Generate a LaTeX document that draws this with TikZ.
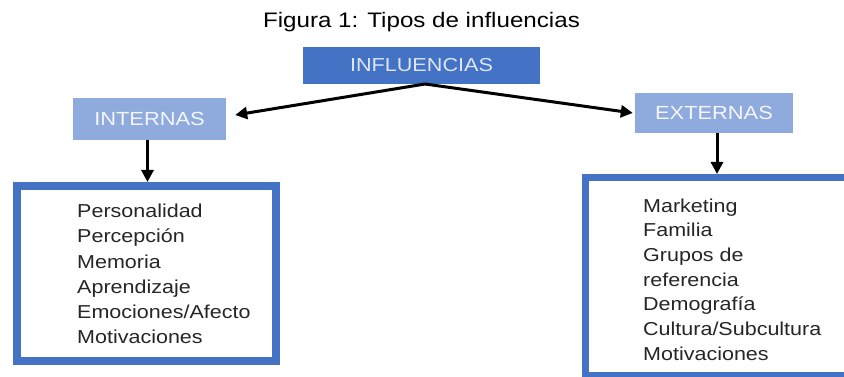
\documentclass[tikz,border=0pt]{standalone}
\usepackage{fontspec}
\setmainfont{Liberation Sans}[FakeStretch=1.15]
\usetikzlibrary{arrows.meta}
\definecolor{dblue}{HTML}{4472C4}
\definecolor{lblue}{HTML}{8FAADC}
\definecolor{hdrtxt}{HTML}{DCE6F4}
\definecolor{subtxt}{HTML}{F4F6FB}
\definecolor{txt}{HTML}{262626}
\begin{document}
\begin{tikzpicture}[x=1pt,y=-1pt,
  hdr/.style={fill=dblue, inner sep=0pt, text=hdrtxt, font=\fontsize{18.8}{20}\selectfont},
  sub/.style={fill=lblue, inner sep=0pt, text=subtxt, font=\fontsize{19}{20}\selectfont},
  listbox/.style={draw=dblue, line width=#1, inner sep=0pt},
  item/.style={anchor=base west, inner sep=0pt, text=txt, font=\fontsize{18.7}{20}\selectfont},
  arr/.style={line width=3pt, -{Triangle[length=12pt,width=12pt]}}]
\useasboundingbox[fill=white] (0,0) rectangle (844,377);
\node[anchor=base, inner sep=0pt, font=\fontsize{21}{24}\selectfont] (title) at (421.5,28) {Figura 1: Tipos de influencias};
\node[hdr, minimum width=237pt, minimum height=37pt] (infl) at (421.5,65.5) {INFLUENCIAS};
\node[sub, minimum width=153pt, minimum height=42pt] (intern) at (149.5,119) {INTERNAS};
\node[sub, minimum width=158pt, minimum height=40pt] (extern) at (714,113) {EXTERNAS};
\node[listbox=8pt, minimum width=259pt, minimum height=175pt] (lbox) at (146.5,273.5) {};
\node[listbox=7pt, minimum width=262pt, minimum height=197.5pt] (rbox) at (716,276.25) {};
\coordinate (src) at (425,84);
\draw[arr] (src) -- ([xshift=9pt,yshift=4pt]intern.east);
\draw[arr] (src) -- ([xshift=-2pt]extern.west);
\draw[arr] ([xshift=-2pt]intern.south) -- ([xshift=-2pt]intern.south |- lbox.north);
\draw[arr] ([xshift=3pt]extern.south) -- ([xshift=3pt]extern.south |- rbox.north);
\foreach \t [count=\i] in {Personalidad,Percepción,Memoria,Aprendizaje,Emociones/Afecto,Motivaciones}
  \node[item] (li\i) at (77,{218+25*(\i-1)}) {\t};
\foreach \t [count=\i] in {Marketing,Familia,Grupos de,referencia,Demografía,Cultura/Subcultura,Motivaciones}
  \node[item] (ri\i) at (643,{212+24.7*(\i-1)}) {\t};
\end{tikzpicture}
\end{document}
